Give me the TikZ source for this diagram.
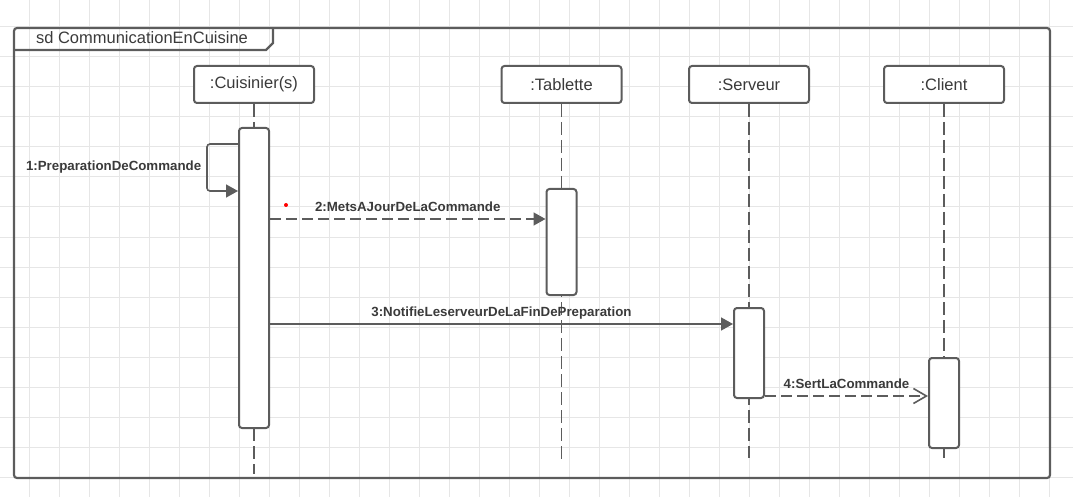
\documentclass[tikz,border=0pt]{standalone}
\usepackage{fontspec}
\setmainfont{Liberation Sans}
\usetikzlibrary{arrows.meta}
\definecolor{ink}{HTML}{5C5C5C}
\definecolor{txt}{HTML}{3A3A3A}
\definecolor{gridc}{HTML}{E6E6E6}
\tikzset{
	head/.style={draw=ink, line width=2pt, rounded corners=3pt, fill=white, minimum width=120pt,
		minimum height=37pt, inner sep=0pt, text=txt, font=\fontsize{16.5}{18}\selectfont},
	act/.style={draw=ink, line width=2pt, rounded corners=3pt, fill=white, minimum width=30pt, inner sep=0pt},
	lifeline/.style={draw=ink, line width=1.6pt, dash pattern=on 13pt off 5pt},
	msg/.style={draw=ink, line width=1.6pt, -{Triangle[length=12pt,width=13pt]}},
	msgdash/.style={msg, dash pattern=on 11pt off 5pt},
	reply/.style={draw=ink, line width=1.6pt, dash pattern=on 11pt off 5pt,
		-{Straight Barb[length=13pt,width=15pt,line width=1.6pt]}},
	lbl/.style={text=txt, font=\fontsize{13.3}{15}\selectfont\bfseries, inner sep=0pt}
}
\begin{document}
\begin{tikzpicture}[x=1pt, y=-1pt]
		\useasboundingbox (0,0) rectangle (1073,497);
		% background grid
		\foreach \x in {29.5,59.5,...,1073} \draw [gridc, line width=1pt] (\x,0) -- (\x,497);
		\foreach \y in {27,57,...,497} \draw [gridc, line width=1pt] (0,\y) -- (1073,\y);
		% frame
		\draw [ink, line width=2.2pt, rounded corners=3pt] (14,28) rectangle (1050,478);
		\draw [ink, line width=2.2pt] (14,50) -- (266,50) -- (273,43) -- (273,28);
		\node (title) [text=txt, font=\fontsize{16.5}{18}\selectfont] at (142,38) {sd CommunicationEnCuisine};
		% lifelines
		\coordinate (cuisEnd) at (254,474);
		\coordinate (tabEnd) at (561.5,460);
		\coordinate (servEnd) at (749,458);
		\coordinate (cliEnd) at (944,458);
		\node (cuis) [head] at (254,84.5) {:Cuisinier(s)};
		\node (tab) [head] at (561.5,84.5) {:Tablette};
		\node (serv) [head] at (749,84.5) {:Serveur};
		\node (cli) [head] at (944,84.5) {:Client};
		\draw [lifeline] (cuis) -- (cuisEnd);
		\draw [lifeline] (tab) -- (tabEnd);
		\draw [lifeline] (serv) -- (servEnd);
		\draw [lifeline] (cli) -- (cliEnd);
		% activations
		\node (actC) [act, minimum height=300pt] at (254,278) {};
		\node (actT) [act, minimum height=106pt] at (561.5,242) {};
		\node (actS) [act, minimum height=90pt] at (749,353) {};
		\node (actL) [act, minimum height=90pt] at (944,403) {};
		% messages
		\draw [msg, rounded corners=3pt] ([yshift=-17pt]actC.north west) -- ++(-31,0)
			|- node [lbl, pos=0.25, left=5pt] {1:PreparationDeCommande} ([yshift=-64pt]actC.north west);
		\draw [msgdash] ([yshift=-92pt]actC.north east) -- ([yshift=-31pt]actT.north west)
			node [lbl, midway, anchor=base, yshift=7.5pt] {2:MetsAJourDeLaCommande};
		\node (dot) [circle, fill=red, inner sep=0pt, minimum size=4pt] at (286,205) {};
		\draw [msg] ([yshift=-197pt]actC.north east) -- ([yshift=-17pt]actS.north west)
			node [lbl, midway, anchor=base, yshift=7.5pt] {3:NotifieLeserveurDeLaFinDePreparation};
		\draw [reply] ([yshift=-89pt]actS.north east) -- ([yshift=-39pt]actL.north west)
			node [lbl, midway, anchor=base, yshift=7.5pt] {4:SertLaCommande};
\end{tikzpicture}
\end{document}
